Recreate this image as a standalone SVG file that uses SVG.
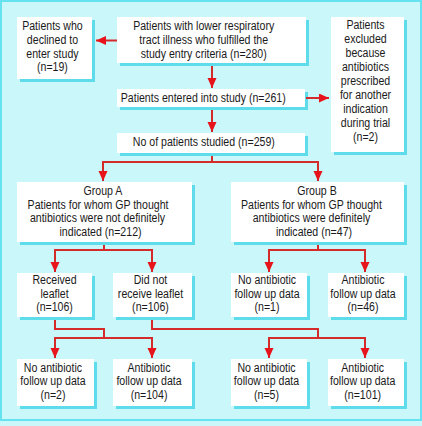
<svg xmlns="http://www.w3.org/2000/svg" width="422" height="426" viewBox="0 0 422 426">
<style>
.bg{fill:#c9f7fa;stroke:#66e2f0;stroke-width:2}
.sh{fill:#5fdcec}
.bx{fill:#ffffff}
text{font-family:"Liberation Sans",Arial,Helvetica,sans-serif;font-size:12.3px;fill:#1a1a1a;text-anchor:middle}
.ln{fill:none;stroke:#d42a2a;stroke-width:2}
</style>
<defs>
<marker id="ah" markerUnits="userSpaceOnUse" markerWidth="10" markerHeight="10" refX="10" refY="4.5" orient="auto">
<path d="M0,0 L10,4.5 L0,9 Z" fill="#e8141c"/>
</marker>
</defs>
<rect x="0" y="0" width="422" height="426" fill="#c9f7fa"/>
<rect class="bg" x="1" y="1" width="420" height="419"/>

<g id="n1">
<rect class="sh" x="20" y="20" width="75" height="62"/>
<rect class="bx" x="17" y="17" width="75" height="62"/>
<text transform="scale(0.86,1)"><tspan x="61.0" y="30">Patients who</tspan><tspan x="61.0" y="44">declined to</tspan><tspan x="61.0" y="57.7">enter study</tspan><tspan x="61.0" y="71.3">(n=19)</tspan></text>
</g>
<g id="n2">
<rect class="sh" x="120" y="20" width="189" height="46"/>
<rect class="bx" x="117" y="17" width="189" height="46"/>
<text transform="scale(0.86,1)"><tspan x="236.9" y="30">Patients with lower respiratory</tspan><tspan x="236.9" y="44">tract illness who fulfilled the</tspan><tspan x="236.9" y="58">study entry criteria (n=280)</tspan></text>
</g>
<g id="n3">
<rect class="sh" x="120" y="92" width="188" height="18"/>
<rect class="bx" x="117" y="89" width="188" height="18"/>
<text transform="scale(0.86,1)"><tspan x="236.3" y="102">Patients entered into study (n=261)</tspan></text>
</g>
<g id="n4">
<rect class="sh" x="334" y="20" width="73" height="135"/>
<rect class="bx" x="331" y="17" width="73" height="135"/>
<text transform="scale(0.86,1)"><tspan x="425" y="29.5">Patients</tspan><tspan x="425" y="43.4">excluded</tspan><tspan x="425" y="57.3">because</tspan><tspan x="425" y="71.2">antibiotics</tspan><tspan x="425" y="85.1">prescribed</tspan><tspan x="425" y="99">for another</tspan><tspan x="425" y="112.9">indication</tspan><tspan x="425" y="126.8">during trial</tspan><tspan x="425" y="140.7">(n=2)</tspan></text>
</g>
<g id="n5">
<rect class="sh" x="120" y="136" width="188" height="20"/>
<rect class="bx" x="117" y="133" width="188" height="20"/>
<text transform="scale(0.86,1)"><tspan x="237.0" y="146">No of patients studied (n=259)</tspan></text>
</g>
<g id="n6">
<rect class="sh" x="20" y="185" width="175" height="60"/>
<rect class="bx" x="17" y="182" width="175" height="60"/>
<text transform="scale(0.86,1)"><tspan x="119.8" y="195">Group A</tspan><tspan x="114.0" y="208.7">Patients for whom GP thought</tspan><tspan x="113.4" y="222.4">antibiotics were not definitely</tspan><tspan x="116.9" y="236.1">indicated (n=212)</tspan></text>
</g>
<g id="n7">
<rect class="sh" x="234" y="185" width="173" height="60"/>
<rect class="bx" x="231" y="182" width="173" height="60"/>
<text transform="scale(0.86,1)"><tspan x="368.6" y="195">Group B</tspan><tspan x="362.2" y="208.7">Patients for whom GP thought</tspan><tspan x="362.2" y="222.4">antibiotics were definitely</tspan><tspan x="365.1" y="236.1">indicated (n=47)</tspan></text>
</g>
<g id="n8">
<rect class="sh" x="20" y="276" width="75" height="44"/>
<rect class="bx" x="17" y="273" width="75" height="44"/>
<text transform="scale(0.86,1)"><tspan x="63.4" y="284.5">Received</tspan><tspan x="63.4" y="298">leaflet</tspan><tspan x="63.4" y="311.5">(n=106)</tspan></text>
</g>
<g id="n9">
<rect class="sh" x="116" y="276" width="79" height="44"/>
<rect class="bx" x="113" y="273" width="79" height="44"/>
<text transform="scale(0.86,1)"><tspan x="175.0" y="284.5">Did not</tspan><tspan x="175.0" y="298">receive leaflet</tspan><tspan x="175.0" y="311.5">(n=106)</tspan></text>
</g>
<g id="n10">
<rect class="sh" x="234" y="276" width="76" height="44"/>
<rect class="bx" x="231" y="273" width="76" height="44"/>
<text transform="scale(0.86,1)"><tspan x="310.5" y="284.5">No antibiotic</tspan><tspan x="310.5" y="298">follow up data</tspan><tspan x="310.5" y="311.5">(n=1)</tspan></text>
</g>
<g id="n11">
<rect class="sh" x="331" y="276" width="76" height="44"/>
<rect class="bx" x="328" y="273" width="76" height="44"/>
<text transform="scale(0.86,1)"><tspan x="422.1" y="284.5">Antibiotic</tspan><tspan x="422.1" y="298">follow up data</tspan><tspan x="422.1" y="311.5">(n=46)</tspan></text>
</g>
<g id="n12">
<rect class="sh" x="20" y="362" width="77" height="47"/>
<rect class="bx" x="17" y="359" width="77" height="47"/>
<text transform="scale(0.86,1)"><tspan x="61.6" y="371.7">No antibiotic</tspan><tspan x="61.6" y="385.2">follow up data</tspan><tspan x="61.6" y="398.7">(n=2)</tspan></text>
</g>
<g id="n13">
<rect class="sh" x="116" y="362" width="79" height="47"/>
<rect class="bx" x="113" y="359" width="79" height="47"/>
<text transform="scale(0.86,1)"><tspan x="173.3" y="371.7">Antibiotic</tspan><tspan x="173.3" y="385.2">follow up data</tspan><tspan x="173.3" y="398.7">(n=104)</tspan></text>
</g>
<g id="n14">
<rect class="sh" x="234" y="362" width="76" height="47"/>
<rect class="bx" x="231" y="359" width="76" height="47"/>
<text transform="scale(0.86,1)"><tspan x="309.9" y="371.7">No antibiotic</tspan><tspan x="309.9" y="385.2">follow up data</tspan><tspan x="309.9" y="398.7">(n=5)</tspan></text>
</g>
<g id="n15">
<rect class="sh" x="331" y="362" width="76" height="47"/>
<rect class="bx" x="328" y="359" width="76" height="47"/>
<text transform="scale(0.86,1)"><tspan x="421.7" y="371.7">Antibiotic</tspan><tspan x="421.7" y="385.2">follow up data</tspan><tspan x="421.7" y="398.7">(n=101)</tspan></text>
</g>

<g id="connectors">
<path class="ln" d="M117,40.5 H96" marker-end="url(#ah)"/>
<path class="ln" d="M212,66 V88" marker-end="url(#ah)"/>
<path class="ln" d="M306,98 H329" marker-end="url(#ah)"/>
<path class="ln" d="M212,110 V132" marker-end="url(#ah)"/>
<path class="ln" d="M212,156 V162 M103,162 H318"/>
<path class="ln" d="M103,161 V181" marker-end="url(#ah)"/>
<path class="ln" d="M318,161 V181" marker-end="url(#ah)"/>
<path class="ln" d="M104,245 V250 M55,250 H152"/>
<path class="ln" d="M55,249 V272" marker-end="url(#ah)"/>
<path class="ln" d="M152,249 V272" marker-end="url(#ah)"/>
<path class="ln" d="M318,245 V250 M269,250 H365"/>
<path class="ln" d="M269,249 V272" marker-end="url(#ah)"/>
<path class="ln" d="M365,249 V272" marker-end="url(#ah)"/>
<path class="ln" d="M55,320 V329 H104 V338 M55,338 H152"/>
<path class="ln" d="M55,337 V358" marker-end="url(#ah)"/>
<path class="ln" d="M152,337 V358" marker-end="url(#ah)"/>
<path class="ln" d="M152,320 V329 H318 V338 M269,338 H365"/>
<path class="ln" d="M269,337 V358" marker-end="url(#ah)"/>
<path class="ln" d="M365,337 V358" marker-end="url(#ah)"/>
</g>
</svg>
